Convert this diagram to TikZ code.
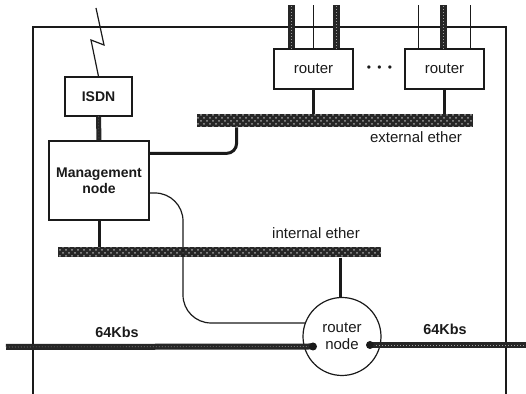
\documentclass[tikz,border=0pt]{standalone}
\usepackage{fontspec}
\setmainfont{Liberation Sans}
\usepackage{tikz}
\usetikzlibrary{positioning,calc,patterns}
\definecolor{mInk}{HTML}{1A1A1A}
\definecolor{mHatch}{HTML}{262626}
\tikzset{
 box/.style={draw=mInk, line width=0.6pt, fill=white, font=\fontsize{7}{8.4}\selectfont, text=mInk},
 ether/.style={rectangle, inner sep=0pt, preaction={fill=mHatch}, pattern=crosshatch dots, pattern color=white!55!mHatch},
 link/.style={line width=#1, draw=mHatch, postaction={draw=white!55!mHatch, line width=0.3pt, dash pattern=on 0.3pt off 1.2pt}},
 link/.default=3pt,
 wire/.style={draw=mInk, line width=0.6pt},
 stub/.style={draw=mInk, line width=1.5pt},
 lbl/.style={font=\fontsize{7.5}{9}\selectfont, text=mInk, inner sep=1pt},
}
\begin{document}
\begin{tikzpicture}[x=0.5pt, y=-0.5pt]
\useasboundingbox (0,0) rectangle (526,394);
\draw[wire] (33,394) -- (33,27) -- (506,27) -- (506,394);
\node[ether, minimum width=138pt, minimum height=6.5pt] (extether) at (335,120.5) {};
\node[ether, minimum width=161.5pt, minimum height=5pt] (intether) at (219.5,252.5) {};
\node[box, minimum width=33.5pt, minimum height=19.5pt, font=\fontsize{7}{8.4}\selectfont\bfseries] (isdn) at (98.5,96.5) {ISDN};
\node[box, minimum width=50pt, minimum height=39.5pt, align=center, font=\fontsize{7}{8.2}\selectfont\bfseries] (mgmt) at (99,180.5) {Management\\node};
\node[box, minimum width=39.5pt, minimum height=20pt, font=\fontsize{7.5}{9}\selectfont] (router1) at (313.5,69) {router};
\node[box, minimum width=39.5pt, minimum height=20pt, font=\fontsize{7.5}{9}\selectfont] (router2) at (444.5,69) {router};
\node[lbl, font=\fontsize{6}{7}\selectfont] (dots) at (379.5,69) {\textbullet\hspace{3.2pt}\textbullet\hspace{3.2pt}\textbullet};
\node[box, circle, minimum size=39pt, inner sep=0pt, align=center, font=\fontsize{7.5}{8.3}\selectfont] (rnode) at (342,336.5) {router\\node};
\coordinate (sky) at (96,8);
\coordinate (top) at (0,5);
\coordinate (westend) at (6,347);
\coordinate (eastend) at (526,345);
\coordinate (westtap) at (313,346.5);
\coordinate (easttap) at (370,345);
\draw[wire] (sky) -- (104,45) -- (91,40) -- (isdn.north);
\draw[link=2.5pt] (isdn.south) -- (mgmt.north);
\draw[stub, rounded corners=5pt] ([yshift=-6.5pt]mgmt.north east) -| ([xshift=20pt]extether.south west);
\draw[stub] (mgmt.south) -- (mgmt.south |- intether.north);
\draw[stub] (router1.south) -- (router1.south |- extether.north);
\draw[stub] (router2.south) -- (router2.south |- extether.north);
\draw[link=3.5pt] ([xshift=-11.25pt]router1.north) -- ([xshift=-11.25pt]router1.north |- top);
\draw[wire] (router1.north) -- (router1.north |- top);
\draw[link=3.5pt] ([xshift=11.25pt]router1.north) -- ([xshift=11.25pt]router1.north |- top);
\draw[wire] ([xshift=-13pt]router2.north) -- ([xshift=-13pt]router2.north |- top);
\draw[link=3.5pt] ([xshift=-0.5pt]router2.north) -- ([xshift=-0.5pt]router2.north |- top);
\draw[wire] ([xshift=13pt]router2.north) -- ([xshift=13pt]router2.north |- top);
\draw[wire, rounded corners=14pt] ([yshift=-6.25pt]mgmt.east) -| (183,323) -- (rnode.160);
\draw[stub] ([xshift=-1pt]rnode.north |- intether.south) -- ([xshift=-1pt]rnode.north);
\draw[link=3pt] (westend) -- (westtap);
\draw[link=3pt] (easttap) -- (eastend);
\fill[mInk] (westtap) circle (2pt);
\fill[mInk] (easttap) circle (2pt);
\node[lbl] (extlbl) at (416,137) {external ether};
\node[lbl] (intlbl) at (316,233) {internal ether};
\node[lbl, font=\fontsize{7.2}{9}\selectfont\bfseries] (wkbs) at (117,332) {64Kbs};
\node[lbl, font=\fontsize{7.2}{9}\selectfont\bfseries] (ekbs) at (445,329) {64Kbs};
\end{tikzpicture}
\end{document}
